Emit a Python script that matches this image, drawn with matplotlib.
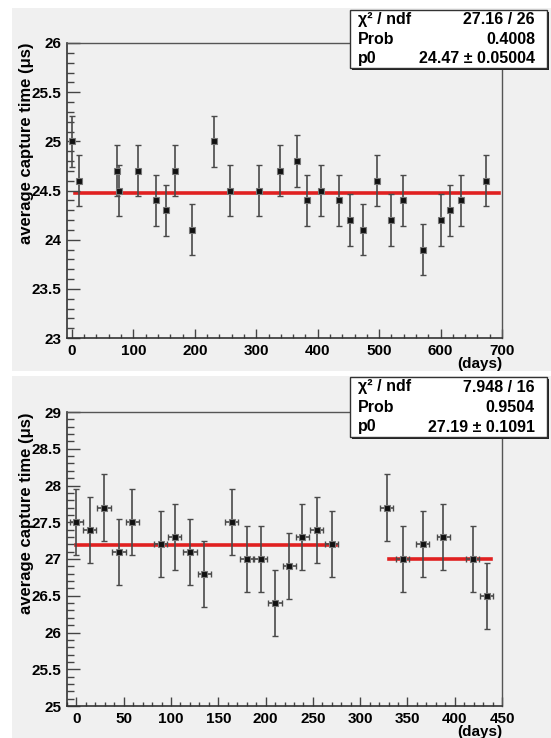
import numpy as np
import matplotlib.pyplot as plt
from matplotlib.patches import Rectangle
from matplotlib.ticker import MultipleLocator, FormatStrFormatter

plt.rcParams['font.family'] = ['Liberation Sans', 'DejaVu Sans']
plt.rcParams['font.weight'] = 'bold'

# top panel: run 1
days1 = [0, 11, 74, 76, 107, 137, 153, 167, 195, 231, 258, 305, 338, 367, 383,
         406, 435, 453, 473, 496, 519, 539, 571, 601, 615, 633, 674]
time1 = [25.0, 24.6, 24.7, 24.5, 24.7, 24.4, 24.3, 24.7, 24.1, 25.0, 24.5, 24.5,
         24.7, 24.8, 24.4, 24.5, 24.4, 24.2, 24.1, 24.6, 24.2, 24.4, 23.9, 24.2,
         24.3, 24.4, 24.6]
err1 = [0.26] * len(days1)
fit1 = 24.47
fit1_range = (5, 695)
stats1 = [('χ² / ndf', '27.16 / 26'), ('Prob', '0.4008'), ('p0', '24.47 ± 0.05004')]

# bottom panel: run 2
days2 = [0, 14, 29, 45, 59, 89, 104, 120, 135, 164, 180, 195, 210, 225, 239,
         254, 270, 328, 345, 366, 388, 419, 434]
time2 = [27.5, 27.4, 27.7, 27.1, 27.5, 27.2, 27.3, 27.1, 26.8, 27.5, 27.0, 27.0,
         26.4, 26.9, 27.3, 27.4, 27.2, 27.7, 27.0, 27.2, 27.3, 27.0, 26.5]
err2 = [0.45] * len(days2)
xerr2 = [7] * len(days2)
fit2 = 27.19
fit2_range = (0, 274)
fit3 = 27.0
fit3_range = (330, 438)
stats2 = [('χ² / ndf', '7.948 / 16'), ('Prob', '0.9504'), ('p0', '27.19 ± 0.1091')]

W, H = 551, 738
fig = plt.figure(figsize=(W / 100, H / 100), dpi=100)
fig.patch.set_facecolor('white')


def px_rect(x0, y0, x1, y1):
    # pixel box (top-left origin) -> figure fraction
    return [x0 / W, (H - y1) / H, (x1 - x0) / W, (y1 - y0) / H]


pad_col = '#f0f0f0'
for r in [px_rect(12, 8, 551, 371), px_rect(12, 376, 551, 738)]:
    fig.patches.append(Rectangle((r[0], r[1]), r[2], r[3], transform=fig.transFigure,
                                 facecolor=pad_col, edgecolor='none', zorder=-5))


def style_axes(ax, xlim, ylim, xmaj, xmin):
    ax.set_zorder(2)
    ax.set_facecolor(pad_col)
    ax.set_xlim(*xlim)
    ax.set_ylim(*ylim)
    ax.xaxis.set_major_locator(MultipleLocator(xmaj))
    ax.xaxis.set_minor_locator(MultipleLocator(xmin))
    ax.yaxis.set_major_locator(MultipleLocator(0.5))
    ax.yaxis.set_minor_locator(MultipleLocator(0.1))
    ax.yaxis.set_major_formatter(FormatStrFormatter('%g'))
    ax.tick_params(axis='y', which='major', direction='in', length=9, width=1,
                   color='#444444', labelsize=11, pad=4)
    ax.tick_params(axis='y', which='minor', direction='in', length=5, width=1, color='#444444')
    ax.tick_params(axis='x', which='major', direction='in', length=6.5, width=1,
                   color='#444444', labelsize=11, pad=4)
    ax.tick_params(axis='x', which='minor', direction='in', length=3, width=1, color='#444444')
    for s in ['left', 'bottom']:
        ax.spines[s].set_color('#333333')
        ax.spines[s].set_linewidth(1.2)
    for s in ['top', 'right']:
        ax.spines[s].set_color('#555555')
        ax.spines[s].set_linewidth(1.0)
    for lab in ax.get_xticklabels() + ax.get_yticklabels():
        lab.set_fontweight('bold')
    ax.text(1.0, -0.064, '(days)', transform=ax.transAxes, ha='right', va='top',
            fontsize=11, fontweight='bold')


def stats_box(box, rows):
    x0, y0, x1, y1 = box
    sh = px_rect(x0 + 2, y0 + 2, x1 + 2, y1 + 2)
    fig.patches.append(Rectangle((sh[0], sh[1]), sh[2], sh[3], transform=fig.transFigure,
                                 facecolor='#222222', edgecolor='none', zorder=5))
    r = px_rect(x0, y0, x1, y1)
    fig.patches.append(Rectangle((r[0], r[1]), r[2], r[3], transform=fig.transFigure,
                                 facecolor='white', edgecolor='#333333', lw=1, zorder=6))
    step = (y1 - y0) / 3
    for i, (name, val) in enumerate(rows):
        yc = y0 + step * (i + 0.5)
        fig.text((x0 + 8) / W, (H - yc) / H, name, ha='left', va='center',
                 fontsize=11.5, fontweight='bold', zorder=7)
        fig.text((x1 - 12) / W, (H - yc) / H, val, ha='right', va='center',
                 fontsize=11.5, fontweight='bold', zorder=7)


ebar_col = '#4a4a4a'

# top panel
ax1 = fig.add_axes(px_rect(67, 43, 502, 338))
style_axes(ax1, (-8, 700), (23, 26), 100, 20)
ax1.errorbar(days1, time1, yerr=err1, fmt='none', ecolor=ebar_col, elinewidth=1.2,
             capsize=2, capthick=1)
ax1.plot(days1, time1, ls='none', marker='s', ms=4, mfc='#111111', mec='#777777', mew=0.8)
ax1.plot(fit1_range, [fit1, fit1], color='#e02020', lw=2.6, zorder=1)
fig.text(26 / W, (H - 43) / H, 'average capture time (μs)', rotation=90,
         ha='center', va='top', fontsize=12, fontweight='bold')
stats_box((350, 10, 547, 68), stats1)

# bottom panel
ax2 = fig.add_axes(px_rect(67, 412, 502, 706))
style_axes(ax2, (-10, 450), (25, 29), 50, 10)
ax2.errorbar(days2, time2, yerr=err2, xerr=xerr2, fmt='none', ecolor=ebar_col,
             elinewidth=1.2, capsize=2, capthick=1)
ax2.plot(days2, time2, ls='none', marker='s', ms=4, mfc='#111111', mec='#777777', mew=0.8)
ax2.plot(fit2_range, [fit2, fit2], color='#e02020', lw=2.6, zorder=1)
ax2.plot(fit3_range, [fit3, fit3], color='#e02020', lw=2.6, zorder=1)
fig.text(26 / W, (H - 412) / H, 'average capture time (μs)', rotation=90,
         ha='center', va='top', fontsize=12, fontweight='bold')
stats_box((350, 377, 547, 437), stats2)

fig.savefig('out.png', dpi=100)
